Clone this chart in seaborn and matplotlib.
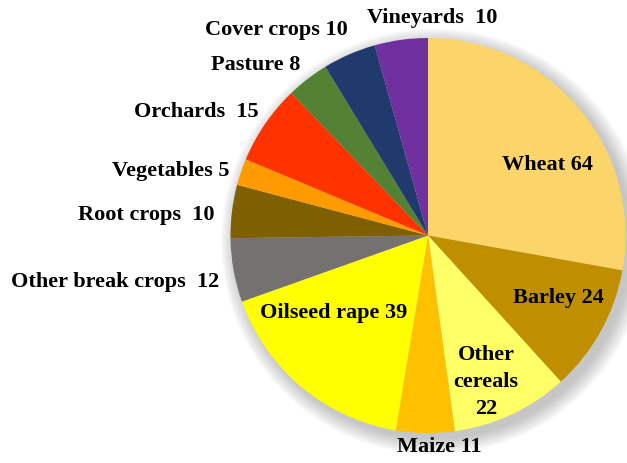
import matplotlib
matplotlib.use("Agg")
import matplotlib.pyplot as plt
import seaborn as sns
import numpy as np
from matplotlib.patches import Circle

# ---- data ----
categories = ["Wheat", "Barley", "Other cereals", "Maize", "Oilseed rape",
              "Other break crops", "Root crops", "Vegetables", "Orchards",
              "Pasture", "Cover crops", "Vineyards"]
values = [64, 24, 22, 11, 39, 12, 10, 5, 15, 8, 10, 10]
labels = ["Wheat 64", "Barley 24", "Other\ncereals\n22", "Maize 11",
          "Oilseed rape 39", "Other break crops  12", "Root crops  10",
          "Vegetables 5", "Orchards  15", "Pasture 8", "Cover crops 10",
          "Vineyards  10"]
colors = ["#FCD56A", "#BF8F00", "#FFFF66", "#FFC000", "#FFFF00", "#767171",
          "#7F6000", "#FF9A00", "#FF3300", "#548235", "#203A6E", "#7030A0"]

# label positions in pixel space (layout only)
label_px = [(547, 165), (558, 298), (486, 382), (439, 447), (334, 313),
            (115, 282), (146, 215), (171, 171), (196, 112), (256, 65),
            (276, 30), (432, 18)]

sns.set_theme(style="white")
plt.rcParams["font.family"] = ["Liberation Serif", "DejaVu Serif"]

W, H = 627, 463
cx, cy, R = 428, 235.5, 197.5
fig = plt.figure(figsize=(W / 100, H / 100), dpi=100)
ax = fig.add_axes([0, 0, 1, 1])

# soft shadow
for k in range(14):
    ax.add_patch(Circle((0.03, -0.03), 1.0 + k * 0.006, color="#707070",
                        alpha=0.03, lw=0, zorder=0))

ax.pie(values, colors=colors, startangle=90, counterclock=False,
       radius=1.0, wedgeprops=dict(linewidth=0, edgecolor="none"))

for lab, (px, py) in zip(labels, label_px):
    x = (px - cx) / R
    y = (cy - py) / R
    ax.text(x, y, lab, ha="center", va="center", fontsize=16,
            fontweight="bold", color="black", linespacing=1.45, zorder=5)

ax.set_xlim(-cx / R, (W - cx) / R)
ax.set_ylim(-(H - cy) / R, cy / R)
ax.set_aspect("equal", adjustable="box")
ax.axis("off")
fig.savefig("out.png", dpi=100, facecolor="white")
